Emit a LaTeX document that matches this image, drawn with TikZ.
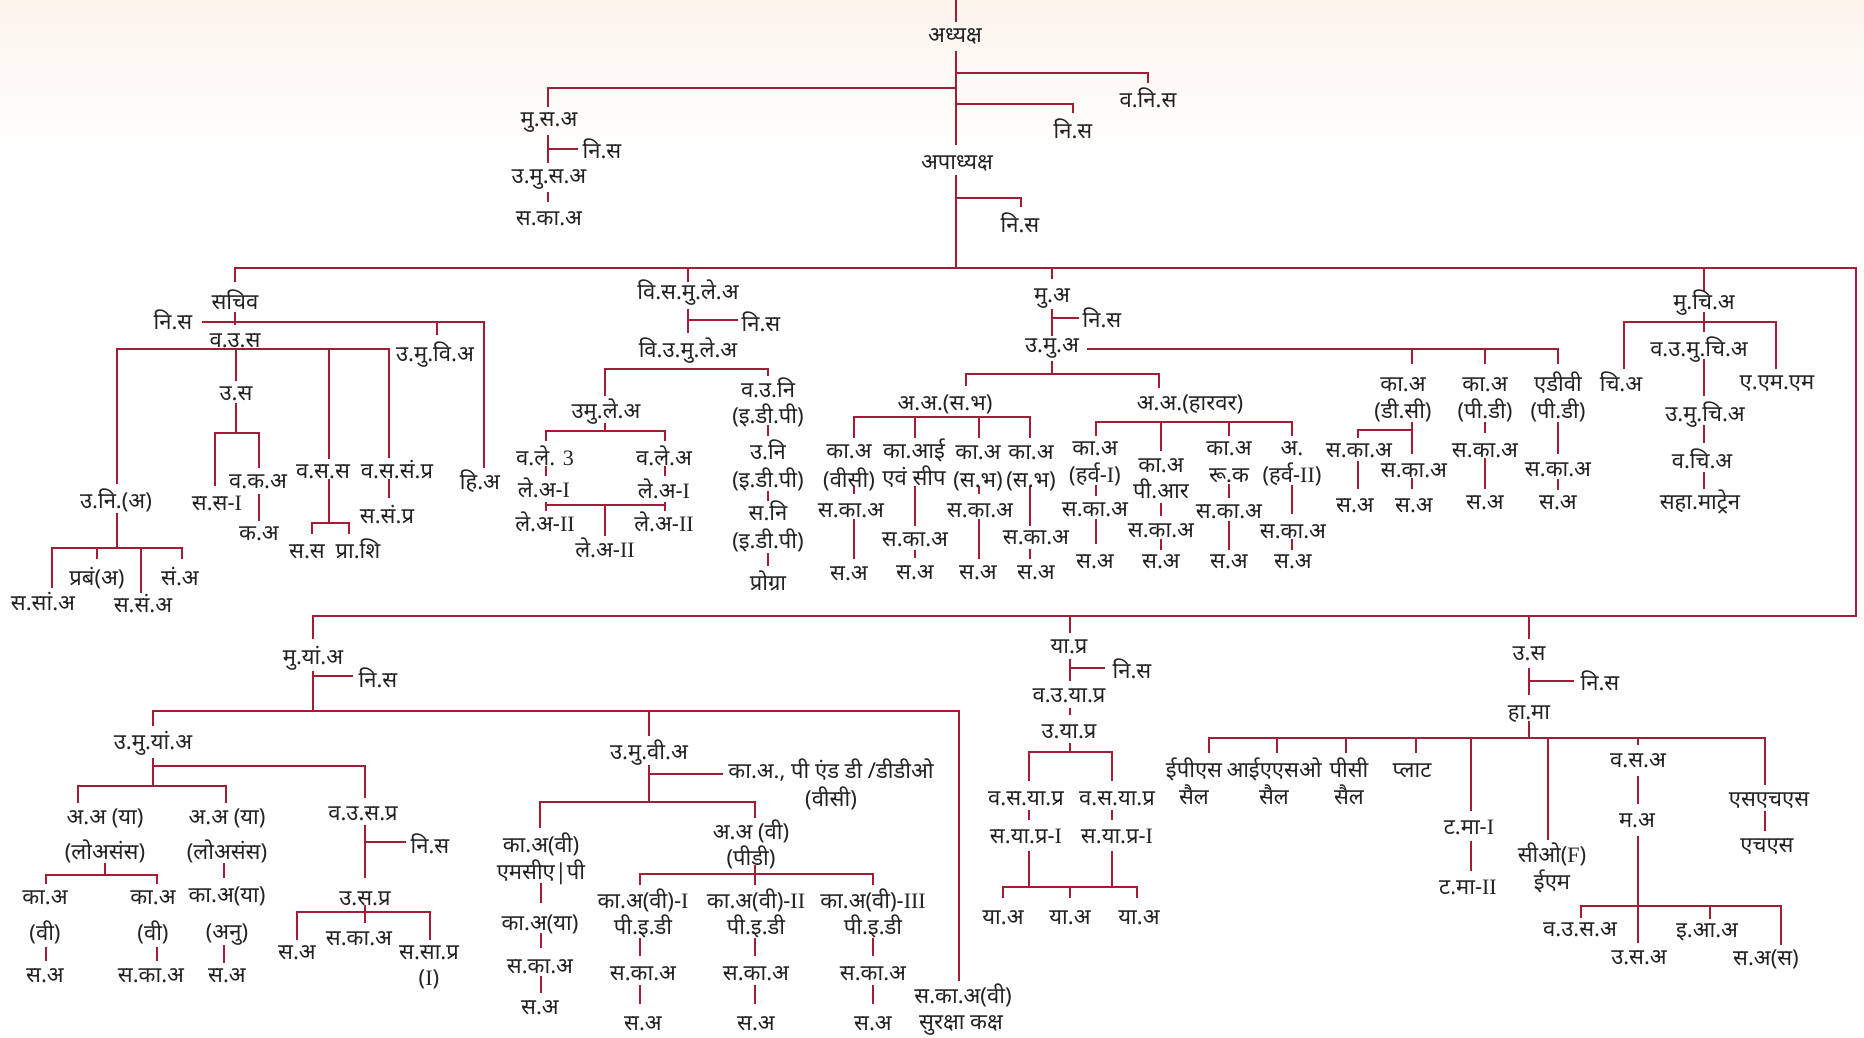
\documentclass[tikz,border=0pt]{standalone}
\usepackage{fontspec}
\setmainfont[Script=Devanagari]{Noto Sans}
\newfontfamily\lat{Liberation Serif}
\definecolor{lc}{RGB}{163,29,54}
\definecolor{bgc}{RGB}{251,245,236}
\definecolor{tc}{RGB}{35,35,35}
\newcounter{tcnt}
\newcommand\T[3]{\stepcounter{tcnt}\node[lbl] (t\thetcnt) at (#1,#2) {#3};}
\begin{document}
\begin{tikzpicture}[x=1pt,y=-1pt,
  lbl/.style={inner sep=0pt,text=tc,font=\fontsize{22}{24}\selectfont,text height=0.6em,text depth=0pt,anchor=center,yshift=-6pt},
  ln/.style={draw=lc,line width=2.6pt,line cap=butt}]
\fill[white] (0,0) rectangle (1864,1038);
\shade[top color=bgc,bottom color=white] (0,0) rectangle (1864,160);
\useasboundingbox (0,0) rectangle (1864,1038);
% ---------- lines: top ----------
\draw[ln] (956,0) -- (956,22);
\draw[ln] (956,51) -- (956,145);
\draw[ln] (956,73) -- (1148,73) -- (1148,83);
\draw[ln] (956,104) -- (1073,104) -- (1073,113);
\draw[ln] (956,88) -- (548,88) -- (548,107);
\draw[ln] (548,135) -- (548,163); \draw[ln] (548,149) -- (578,149);
\draw[ln] (548,192) -- (548,202);
\draw[ln] (956,175) -- (956,268);
\draw[ln] (956,198) -- (1021,198) -- (1021,207);
\draw[ln] (235,282) -- (235,268) -- (1856,268) -- (1856,616) -- (313,616) -- (313,639);
\draw[ln] (688,268) -- (688,282); \draw[ln] (1052,268) -- (1052,279); \draw[ln] (1704,268) -- (1704,292);
\draw[ln] (1070,616) -- (1070,633); \draw[ln] (1529,616) -- (1529,639);
% ---------- sachiv ----------
\draw[ln] (235,312) -- (235,325);
\draw[ln] (202,322) -- (484,322) -- (484,468);
\draw[ln] (437,322) -- (437,335);
\draw[ln] (117,484) -- (117,349) -- (389,349) -- (389,458);
\draw[ln] (236,349) -- (236,381);
\draw[ln] (329,349) -- (329,459);
\draw[ln] (236,403) -- (236,433); \draw[ln] (215,486) -- (215,433) -- (259,433) -- (259,468);
\draw[ln] (259,494) -- (259,521);
\draw[ln] (329,479) -- (329,523); \draw[ln] (312,534) -- (312,523) -- (349,523) -- (349,534);
\draw[ln] (389,479) -- (389,498);
\draw[ln] (117,513) -- (117,548); \draw[ln] (52,588) -- (52,548) -- (182,548) -- (182,559);
\draw[ln] (97,548) -- (97,559); \draw[ln] (141,548) -- (141,593);
% ---------- vi.sa.mu.le.a ----------
\draw[ln] (688,309) -- (688,333); \draw[ln] (688,320) -- (738,320);
\draw[ln] (605,396) -- (605,369) -- (768,369) -- (768,376);
\draw[ln] (605,423) -- (605,431); \draw[ln] (546,441) -- (546,431) -- (665,431) -- (665,441);
\draw[ln] (546,466) -- (546,476); \draw[ln] (665,466) -- (665,476);
\draw[ln] (546,502) -- (546,511); \draw[ln] (665,502) -- (665,511);
\draw[ln] (546,505) -- (665,505); \draw[ln] (605,505) -- (605,536);
\draw[ln] (768,425) -- (768,436); \draw[ln] (768,491) -- (768,501); \draw[ln] (768,553) -- (768,566);
% ---------- mu.a ----------
\draw[ln] (1052,309) -- (1052,336); \draw[ln] (1052,318) -- (1079,318);
\draw[ln] (1087,349) -- (1558,349) -- (1558,364); \draw[ln] (1412,349) -- (1412,364); \draw[ln] (1485,349) -- (1485,364);
\draw[ln] (1052,361) -- (1052,374); \draw[ln] (966,386) -- (966,374) -- (1159,374) -- (1159,388);
\draw[ln] (854,438) -- (854,417) -- (1030,417) -- (1030,438); \draw[ln] (915,417) -- (915,438); \draw[ln] (979,417) -- (979,438);
\draw[ln] (854,486) -- (854,494); \draw[ln] (854,519) -- (854,559);
\draw[ln] (915,486) -- (915,526); \draw[ln] (915,550) -- (915,558);
\draw[ln] (979,486) -- (979,494); \draw[ln] (979,519) -- (979,559);
\draw[ln] (1030,486) -- (1030,526); \draw[ln] (1030,549) -- (1030,559);
\draw[ln] (1096,436) -- (1096,422) -- (1292,422) -- (1292,436); \draw[ln] (1161,422) -- (1161,451); \draw[ln] (1229,422) -- (1229,436);
\draw[ln] (1096,485) -- (1096,496); \draw[ln] (1096,519) -- (1096,544);
\draw[ln] (1161,503) -- (1161,516); \draw[ln] (1161,539) -- (1161,550);
\draw[ln] (1229,484) -- (1229,498); \draw[ln] (1229,521) -- (1229,550);
\draw[ln] (1292,485) -- (1292,514); \draw[ln] (1292,539) -- (1292,550);
\draw[ln] (1412,422) -- (1412,454); \draw[ln] (1358,438) -- (1358,430) -- (1412,430);
\draw[ln] (1358,461) -- (1358,489); \draw[ln] (1412,478) -- (1412,489);
\draw[ln] (1485,422) -- (1485,433); \draw[ln] (1485,458) -- (1485,489);
\draw[ln] (1558,422) -- (1558,454); \draw[ln] (1558,479) -- (1558,490);
% ---------- mu.chi.a ----------
\draw[ln] (1704,312) -- (1704,332); \draw[ln] (1624,369) -- (1624,322) -- (1776,322) -- (1776,369);
\draw[ln] (1704,359) -- (1704,396); \draw[ln] (1704,425) -- (1704,443); \draw[ln] (1704,472) -- (1704,489);
% ---------- mu.yan.a ----------
\draw[ln] (313,671) -- (313,711); \draw[ln] (313,676) -- (353,676);
\draw[ln] (153,726) -- (153,711) -- (959,711) -- (959,981); \draw[ln] (649,711) -- (649,736);
\draw[ln] (153,758) -- (153,786); \draw[ln] (153,766) -- (365,766) -- (365,798);
\draw[ln] (78,803) -- (78,786) -- (226,786) -- (226,803);
\draw[ln] (105,863) -- (105,875); \draw[ln] (46,884) -- (46,875) -- (157,875) -- (157,884);
\draw[ln] (46,947) -- (46,961); \draw[ln] (157,947) -- (157,961);
\draw[ln] (224,863) -- (224,878); \draw[ln] (224,945) -- (224,963);
\draw[ln] (365,825) -- (365,878); \draw[ln] (365,842) -- (406,842); \draw[ln] (365,905) -- (365,923);
\draw[ln] (297,940) -- (297,912) -- (430,912) -- (430,940);
\draw[ln] (649,765) -- (649,801); \draw[ln] (649,774) -- (723,774);
\draw[ln] (540,828) -- (540,802) -- (755,802) -- (755,818);
\draw[ln] (541,883) -- (541,903); \draw[ln] (541,933) -- (541,948); \draw[ln] (541,976) -- (541,993);
\draw[ln] (755,865) -- (755,885); \draw[ln] (640,885) -- (640,874) -- (873,874) -- (873,885);
\foreach \xx in {640,755,873} {\draw[ln] (\xx,938) -- (\xx,956); \draw[ln] (\xx,985) -- (\xx,1004);}
% ---------- ya.pra ----------
\draw[ln] (1070,659) -- (1070,681); \draw[ln] (1070,668) -- (1105,668);
\draw[ln] (1070,708) -- (1070,715); \draw[ln] (1070,743) -- (1070,752);
\draw[ln] (1029,781) -- (1029,752) -- (1112,752) -- (1112,781);
\draw[ln] (1029,810) -- (1029,820); \draw[ln] (1112,810) -- (1112,820);
\draw[ln] (1029,851) -- (1029,887); \draw[ln] (1112,851) -- (1112,887);
\draw[ln] (1003,898) -- (1003,887) -- (1137,887) -- (1137,898); \draw[ln] (1070,887) -- (1070,898);
% ---------- u.sa ----------
\draw[ln] (1529,668) -- (1529,695); \draw[ln] (1529,681) -- (1574,681); \draw[ln] (1529,721) -- (1529,738);
\draw[ln] (1209,753) -- (1209,738) -- (1765,738) -- (1765,785);
\draw[ln] (1277,738) -- (1277,753); \draw[ln] (1346,738) -- (1346,753); \draw[ln] (1416,738) -- (1416,753);
\draw[ln] (1471,738) -- (1471,811); \draw[ln] (1471,841) -- (1471,871);
\draw[ln] (1548,738) -- (1548,840);
\draw[ln] (1638,738) -- (1638,745); \draw[ln] (1638,776) -- (1638,804); \draw[ln] (1638,836) -- (1638,943);
\draw[ln] (1581,918) -- (1581,906) -- (1781,906) -- (1781,945); \draw[ln] (1710,906) -- (1710,919);
\draw[ln] (1765,811) -- (1765,831);
% ---------- texts ----------
\T{955}{34}{अध्यक्ष}
\T{1148}{99}{व.नि.स}
\T{1073}{130}{नि.स}
\T{549}{118}{मु.स.अ}
\T{602}{150}{नि.स}
\T{549}{174}{उ.मु.स.अ}
\T{549}{216}{स.का.अ}
\T{957}{160}{अपाध्यक्ष}
\T{1020}{223}{नि.स}
% sachiv
\T{235}{300}{सचिव}
\T{173}{320}{नि.स}
\T{235}{338}{व.उ.स}
\T{435}{352}{उ.मु.वि.अ}
\T{480}{480}{हि.अ}
\T{116}{499}{उ.नि.(अ)}
\T{236}{391}{उ.स}
\T{217}{501}{स.स-{\lat I}}
\T{258}{479}{व.क.अ}
\T{259}{531}{क.अ}
\T{323}{469}{व.स.स}
\T{307}{549}{स.स}
\T{358}{549}{प्रा.शि}
\T{397}{469}{व.स.सं.प्र}
\T{387}{514}{स.सं.प्र}
\T{43}{601}{स.सां.अ}
\T{97}{576}{प्रबं(अ)}
\T{143}{603}{स.सं.अ}
\T{180}{576}{सं.अ}
% vi.sa.mu.le.a
\T{688}{290}{वि.स.मु.ले.अ}
\T{761}{322}{नि.स}
\T{688}{348}{वि.उ.मु.ले.अ}
\T{606}{409}{उमु.ले.अ}
\T{545}{456}{व.ले. {\lat 3}}
\T{664}{456}{व.ले.अ}
\T{544}{488}{ले.अ-{\lat I}}
\T{664}{489}{ले.अ-{\lat I}}
\T{545}{522}{ले.अ-{\lat II}}
\T{664}{522}{ले.अ-{\lat II}}
\T{605}{548}{ले.अ-{\lat II}}
\T{768}{388}{व.उ.नि}
\T{768}{414}{(इ.डी.पी)}
\T{768}{450}{उ.नि}
\T{768}{478}{(इ.डी.पी)}
\T{768}{511}{स.नि}
\T{768}{539}{(इ.डी.पी)}
\T{768}{581}{प्रोग्रा}
% mu.a
\T{1052}{293}{मु.अ}
\T{1102}{318}{नि.स}
\T{1052}{343}{उ.मु.अ}
\T{945}{401}{अ.अ.(स.भ)}
\T{1190}{401}{अ.अ.(हारवर)}
\T{849}{449}{का.अ}\T{849}{478}{(वीसी)}\T{851}{508}{स.का.अ}\T{849}{571}{स.अ}
\T{914}{449}{का.आई}\T{914}{476}{एवं सीप}\T{915}{537}{स.का.अ}\T{915}{570}{स.अ}
\T{978}{450}{का.अ}\T{978}{478}{(स.भ)}\T{980}{508}{स.का.अ}\T{978}{570}{स.अ}
\T{1031}{450}{का.अ}\T{1031}{478}{(स.भ)}\T{1036}{535}{स.का.अ}\T{1036}{570}{स.अ}
\T{1095}{446}{का.अ}\T{1095}{473}{(हर्व-{\lat I})}\T{1095}{507}{स.का.अ}\T{1095}{559}{स.अ}
\T{1161}{463}{का.अ}\T{1161}{489}{पी.आर}\T{1161}{528}{स.का.अ}\T{1161}{559}{स.अ}
\T{1229}{446}{का.अ}\T{1229}{473}{रू.क}\T{1229}{509}{स.का.अ}\T{1229}{559}{स.अ}
\T{1292}{446}{अ.}\T{1292}{473}{(हर्व-{\lat II})}\T{1293}{529}{स.का.अ}\T{1293}{559}{स.अ}
\T{1403}{382}{का.अ}\T{1403}{409}{(डी.सी)}\T{1359}{448}{स.का.अ}\T{1355}{503}{स.अ}\T{1414}{468}{स.का.अ}\T{1414}{503}{स.अ}
\T{1485}{382}{का.अ}\T{1485}{409}{(पी.डी)}\T{1485}{448}{स.का.अ}\T{1485}{500}{स.अ}
\T{1558}{382}{एडीवी}\T{1558}{409}{(पी.डी)}\T{1558}{467}{स.का.अ}\T{1558}{500}{स.अ}
% mu.chi.a
\T{1704}{300}{मु.चि.अ}
\T{1621}{382}{चि.अ}
\T{1777}{380}{ए.एम.एम}
\T{1699}{347}{व.उ.मु.चि.अ}
\T{1705}{412}{उ.मु.चि.अ}
\T{1702}{459}{व.चि.अ}
\T{1700}{500}{सहा.माट्रेन}
% mu.yan.a
\T{313}{655}{मु.यां.अ}
\T{378}{678}{नि.स}
\T{153}{740}{उ.मु.यां.अ}
\T{105}{815}{अ.अ (या)}\T{105}{850}{(लोअसंस)}
\T{45}{895}{का.अ}\T{45}{931}{(वी)}\T{45}{973}{स.अ}
\T{153}{895}{का.अ}\T{153}{931}{(वी)}\T{151}{973}{स.का.अ}
\T{227}{815}{अ.अ (या)}\T{227}{850}{(लोअसंस)}\T{227}{893}{का.अ(या)}\T{227}{930}{(अनु)}\T{227}{973}{स.अ}
\T{363}{811}{व.उ.स.प्र}
\T{430}{844}{नि.स}
\T{365}{896}{उ.स.प्र}
\T{297}{950}{स.अ}\T{359}{936}{स.का.अ}\T{429}{950}{स.सा.प्र}\T{429}{976}{({\lat I})}
\T{649}{750}{उ.मु.वी.अ}
\T{831}{769}{का.अ., पी एंड डी /डीडीओ}\T{831}{797}{(वीसी)}
\T{541}{843}{का.अ(वी)}\T{541}{870}{एमसीए|पी}\T{540}{921}{का.अ(या)}\T{540}{964}{स.का.अ}\T{540}{1005}{स.अ}
\T{751}{830}{अ.अ (वी)}\T{751}{856}{(पीडी)}
\T{643}{899}{का.अ(वी)-{\lat I}}\T{643}{925}{पी.इ.डी}\T{643}{971}{स.का.अ}\T{643}{1021}{स.अ}
\T{756}{899}{का.अ(वी)-{\lat II}}\T{756}{925}{पी.इ.डी}\T{756}{971}{स.का.अ}\T{756}{1021}{स.अ}
\T{873}{899}{का.अ(वी)-{\lat III}}\T{873}{925}{पी.इ.डी}\T{873}{971}{स.का.अ}\T{873}{1021}{स.अ}
\T{963}{994}{स.का.अ(वी)}\T{961}{1020}{सुरक्षा कक्ष}
% ya.pra
\T{1069}{644}{या.प्र}
\T{1132}{669}{नि.स}
\T{1069}{693}{व.उ.या.प्र}
\T{1069}{729}{उ.या.प्र}
\T{1026}{796}{व.स.या.प्र}\T{1117}{796}{व.स.या.प्र}
\T{1026}{834}{स.या.प्र-{\lat I}}\T{1117}{834}{स.या.प्र-{\lat I}}
\T{1003}{915}{या.अ}\T{1070}{915}{या.अ}\T{1139}{915}{या.अ}
% u.sa
\T{1529}{651}{उ.स}
\T{1600}{681}{नि.स}
\T{1529}{710}{हा.मा}
\T{1194}{768}{ईपीएस}\T{1194}{795}{सैल}
\T{1274}{768}{आईएएसओ}\T{1274}{795}{सैल}
\T{1349}{768}{पीसी}\T{1349}{795}{सैल}
\T{1412}{768}{प्लाट}
\T{1469}{825}{ट.मा-{\lat I}}\T{1468}{885}{ट.मा-{\lat II}}
\T{1552}{853}{सीओ({\lat F})}\T{1552}{880}{ईएम}
\T{1638}{758}{व.स.अ}\T{1637}{818}{म.अ}
\T{1580}{927}{व.उ.स.अ}\T{1639}{955}{उ.स.अ}\T{1707}{928}{इ.आ.अ}\T{1766}{956}{स.अ(स)}
\T{1769}{797}{एसएचएस}\T{1767}{843}{एचएस}
\end{tikzpicture}
\end{document}
